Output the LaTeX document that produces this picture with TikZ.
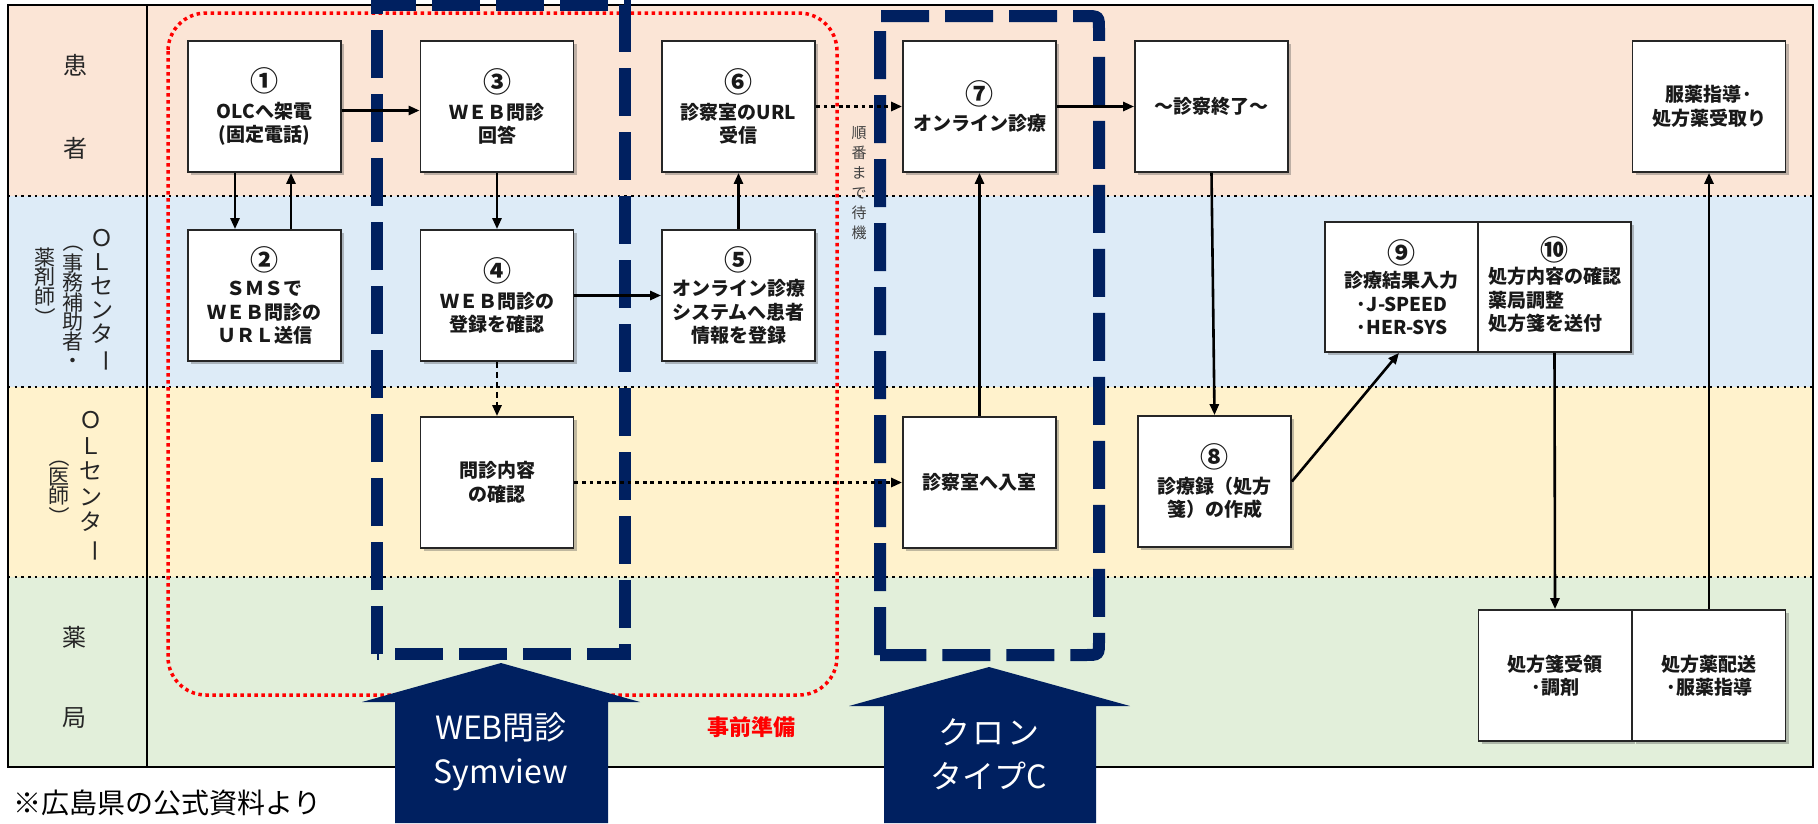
\documentclass[tikz,border=0pt]{standalone}
\usepackage{fontspec}
\setmainfont{Noto Sans CJK JP}
\usepackage{graphicx}
\usetikzlibrary{arrows.meta,shadows}
\definecolor{lanepeach}{RGB}{251,229,214}
\definecolor{laneblue}{RGB}{221,235,247}
\definecolor{laneyellow}{RGB}{255,242,204}
\definecolor{lanegreen}{RGB}{226,239,218}
\definecolor{navyc}{RGB}{0,32,96}
\newcommand{\vrot}[1]{\rotatebox[origin=c]{-90}{#1}}
\newcommand{\bxfont}{\fontsize{19}{23.5}\selectfont\bfseries}
\newcommand{\cnum}[1]{{\fontsize{28}{23}\selectfont #1}}
\tikzset{
  flowbox/.style={draw=black!85, line width=1.8pt, fill=white, minimum width=153pt,
    minimum height=131pt, inner sep=0pt, align=center, font=\bxfont, text=black!90,
    drop shadow={shadow xshift=3pt, shadow yshift=-3pt, opacity=0.35, fill=black!70}},
  conn/.style={line width=2.6pt, -{Triangle[length=11pt,width=9pt]}},
  dotconn/.style={conn, line width=3.8pt, dash pattern=on 3.8pt off 3.8pt},
  dashconn/.style={conn, dash pattern=on 6pt off 4pt},
  ldiv/.style={line width=2.4pt, dash pattern=on 2.4pt off 4.3pt},
  navydash/.style={draw=navyc, line width=12pt, dash pattern=on 48pt off 16pt},
  blockarrow/.style={fill=navyc},
  lanelab/.style={font=\fontsize{24}{28}\selectfont, text=black!85},
  vcolA/.style={align=center, inner sep=0pt, text=black!85},
}
\begin{document}
\begin{tikzpicture}[x=1pt,y=-1pt]
\useasboundingbox (0,0) rectangle (1818,823);
\fill[white] (0,0) rectangle (1818,823);
% lanes
\fill[lanepeach] (8,5) rectangle (1813,196);
\fill[laneblue] (8,196) rectangle (1813,387);
\fill[laneyellow] (8,387) rectangle (1813,577);
\fill[lanegreen] (8,577) rectangle (1813,767);
\draw[ldiv] (8,196) -- (1813,196);
\draw[ldiv] (8,387) -- (1813,387);
\draw[ldiv] (8,577) -- (1813,577);
\draw[line width=2.2pt] (8,5) rectangle (1813,767);
\draw[line width=2.2pt] (147,5) -- (147,767);
% lane labels
\node[lanelab] (l1a) at (75,65) {患};
\node[lanelab] (l1b) at (75,148) {者};
\node[vcolA, font=\fontsize{23}{24}\selectfont] (l2a) at (102,301) {Ｏ\\Ｌ\\セ\\ン\\タ\\\vrot{ー}};
\node[vcolA, font=\fontsize{21}{19.5}\selectfont] (l2b) at (73,300) {\vrot{（}\\事\\務\\補\\助\\者\\・};
\node[vcolA, font=\fontsize{21}{19.5}\selectfont] (l2c) at (45,288) {薬\\剤\\師\\\vrot{）}};
\node[vcolA, font=\fontsize{23}{25.5}\selectfont] (l3a) at (91,487) {Ｏ\\Ｌ\\セ\\ン\\タ\\\vrot{ー}};
\node[vcolA, font=\fontsize{21}{19.5}\selectfont] (l3b) at (59,487) {\vrot{（}\\医\\師\\\vrot{）}};
\node[lanelab] (l4a) at (74,637) {薬};
\node[lanelab] (l4b) at (74,718) {局};
% red dotted preparation frame
\draw[red, line width=3.5pt, dash pattern=on 3.5pt off 3.5pt, rounded corners=38pt] (168,13) rectangle (837,695);
\node[text=red, font=\fontsize{22}{24}\selectfont\bfseries] (prep) at (751,727) {事前準備};
% navy dashed frames
\draw[navydash] (377,654) -- (377,5) -- (625,5) -- (625,654) -- cycle;
\draw[navydash] (880,655) -- (880,16) -- (1085,16) .. controls (1099,16) .. (1099,30) -- (1099,641) .. controls (1099,655) .. (1085,655) -- cycle;
% wait label
\node[vcolA, font=\fontsize{15}{20}\selectfont, text=black!75] (wait) at (859,183) {順\\番\\ま\\で\\待\\機};
% boxes
\node[flowbox] (n1) at (264.5,106.5) {\cnum{①}\\[3pt]OLCへ架電\\(固定電話)};
\node[flowbox] (n2) at (264.5,295.5) {\cnum{②}\\[2pt]ＳＭＳで\\ＷＥＢ問診の\\ＵＲＬ送信};
\node[flowbox] (n3) at (497,106.5) {\cnum{③}\\[3pt]ＷＥＢ問診\\回答};
\node[flowbox] (n4) at (497,295.5) {\cnum{④}\\[3pt]ＷＥＢ問診の\\登録を確認};
\node[flowbox] (nq) at (497,482.5) {問診内容\\の確認};
\node[flowbox] (n5) at (738.5,295.5) {\cnum{⑤}\\[2pt]オンライン診療\\システムへ患者\\情報を登録};
\node[flowbox] (n6) at (738.5,106.5) {\cnum{⑥}\\[3pt]診察室のURL\\受信};
\node[flowbox] (n7) at (979.5,106.5) {\cnum{⑦}\\[3pt]オンライン診療};
\node[flowbox] (nroom) at (979.5,482.5) {診察室へ入室};
\node[flowbox] (nend) at (1211.5,106.5) {～診察終了～};
\node[flowbox] (n8) at (1214.5,481.5) {\cnum{⑧}\\[2pt]診療録（処方\\箋）の作成};
\node[flowbox, minimum height=130pt] (n9) at (1401.5,287) {\cnum{⑨}\\[1pt]診療結果入力\\·J-SPEED\\·HER-SYS};
\node[flowbox, minimum height=130pt] (n10) at (1554.5,287) {\begin{tabular}{@{}l@{}}\multicolumn{1}{@{}c@{}}{\cnum{⑩}}\\処方内容の確認\\薬局調整\\処方箋を送付\end{tabular}};
\node[flowbox] (nrx) at (1555,675.5) {処方箋受領\\·調剤};
\node[flowbox] (ndel) at (1709,675.5) {処方薬配送\\·服薬指導};
\node[flowbox] (nrecv) at (1709,106.5) {服薬指導·\\処方薬受取り};
% connectors
\draw[conn] ([yshift=-4pt]n1.east) -- ([yshift=-4pt]n3.west);
\draw[conn] ([xshift=-29.5pt]n1.south) -- ([xshift=-29.5pt]n2.north);
\draw[conn] ([xshift=26.5pt]n2.north) -- ([xshift=26.5pt]n1.south);
\draw[conn] (n3.south) -- (n4.north);
\draw[dashconn] (n4.south) -- (nq.north);
\draw[conn] (n4.east) -- (n5.west);
\draw[conn] (n5.north) -- (n6.south);
\draw[dotconn] (n6.east) -- (n7.west);
\draw[conn] (n7.east) -- (nend.west);
\draw[conn] (nroom.north) -- (n7.south);
\draw[dotconn] (nq.east) -- (nroom.west);
\draw[conn] (nend.south) -- (n8.north);
\draw[conn] (n8.east) -- ([xshift=-2.5pt]n9.south);
\draw[conn] (n10.south) -- (nrx.north);
\draw[conn] (ndel.north) -- (nrecv.south);
% block arrows
\fill[blockarrow] (395,823) -- (395,702) -- (362,702) -- (501,663) -- (640,702) -- (608,702) -- (608,823) -- cycle;
\fill[blockarrow] (884,823) -- (884,706) -- (849,706) -- (989,667) -- (1130,706) -- (1096,706) -- (1096,823) -- cycle;
\node[text=white, font=\fontsize{32}{44}\selectfont, align=center] (webt) at (501,752) {WEB問診\\Symview};
\node[text=white, font=\fontsize{32}{44}\selectfont, align=center] (kront) at (989,754) {ク\hspace{3pt}ロ\hspace{3pt}ン\\タイプC};
% source note
\node[anchor=west, font=\fontsize{28}{30}\selectfont, text=black] (src) at (10,803) {※広島県の公式資料より};
\end{tikzpicture}
\end{document}
